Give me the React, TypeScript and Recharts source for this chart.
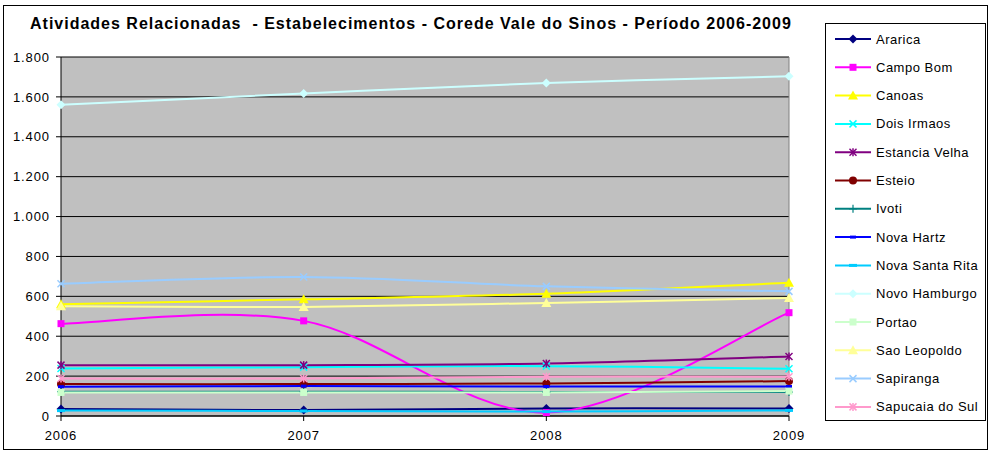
import React from "react";
import {
  CartesianGrid,
  Line,
  LineChart,
  ReferenceLine,
  XAxis,
  YAxis,
} from "recharts";

const YEARS = ["2006", "2007", "2008", "2009"];

const ARARICA = [35, 30, 38, 38];
const CAMPO_BOM = [463, 477, 17, 518];
const CANOAS = [560, 585, 613, 668];
const DOIS_IRMAOS = [238, 245, 250, 237];
const ESTANCIA_VELHA = [255, 255, 263, 298];
const ESTEIO = [160, 160, 163, 175];
const IVOTI = [122, 122, 120, 120];
const NOVA_HARTZ = [147, 150, 148, 148];
const NOVA_SANTA_RITA = [27, 25, 22, 28];
const NOVO_HAMBURGO = [1560, 1617, 1670, 1703];
const PORTAO = [118, 118, 118, 125];
const SAO_LEOPOLDO = [550, 547, 567, 592];
const SAPIRANGA = [663, 697, 650, 625];
const SAPUCAIA_DO_SUL = [188, 188, 197, 197];

const Y_TICKS = [0, 200, 400, 600, 800, 1000, 1200, 1400, 1600, 1800];

type MarkerKind =
  | "diamond"
  | "square"
  | "triangle"
  | "x"
  | "star"
  | "circle"
  | "plus"
  | "dash"
  | "bar";

const SERIES: { name: string; values: number[]; color: string; marker: MarkerKind }[] = [
  { name: "Ararica", values: ARARICA, color: "#000080", marker: "diamond" },
  { name: "Campo Bom", values: CAMPO_BOM, color: "#FF00FF", marker: "square" },
  { name: "Canoas", values: CANOAS, color: "#FFFF00", marker: "triangle" },
  { name: "Dois Irmaos", values: DOIS_IRMAOS, color: "#00FFFF", marker: "x" },
  { name: "Estancia Velha", values: ESTANCIA_VELHA, color: "#800080", marker: "star" },
  { name: "Esteio", values: ESTEIO, color: "#800000", marker: "circle" },
  { name: "Ivoti", values: IVOTI, color: "#008080", marker: "plus" },
  { name: "Nova Hartz", values: NOVA_HARTZ, color: "#0000FF", marker: "dash" },
  { name: "Nova Santa Rita", values: NOVA_SANTA_RITA, color: "#00CCFF", marker: "bar" },
  { name: "Novo Hamburgo", values: NOVO_HAMBURGO, color: "#CCFFFF", marker: "diamond" },
  { name: "Portao", values: PORTAO, color: "#CCFFCC", marker: "square" },
  { name: "Sao Leopoldo", values: SAO_LEOPOLDO, color: "#FFFF99", marker: "triangle" },
  { name: "Sapiranga", values: SAPIRANGA, color: "#99CCFF", marker: "x" },
  { name: "Sapucaia do Sul", values: SAPUCAIA_DO_SUL, color: "#FF99CC", marker: "star" },
];

const data = YEARS.map((year, i) => {
  const row: Record<string, string | number> = { year };
  SERIES.forEach((s) => {
    row[s.name] = s.values[i];
  });
  return row;
});

const FONT = '"Liberation Sans", Arial, sans-serif';
const TICK_STYLE = { fill: "#000", fontSize: 13, fontFamily: FONT, letterSpacing: 0.9 };

// Excel style smoothing (catmull-rom through the points)
function excelSmooth(context: any) {
  let pts: number[][] = [];
  return {
    areaStart() {},
    areaEnd() {},
    lineStart() {
      pts = [];
    },
    point(x: number, y: number) {
      pts.push([+x, +y]);
    },
    lineEnd() {
      const n = pts.length;
      if (!n) return;
      context.moveTo(pts[0][0], pts[0][1]);
      for (let i = 0; i < n - 1; i++) {
        const p0 = pts[Math.max(i - 1, 0)];
        const p1 = pts[i];
        const p2 = pts[i + 1];
        const p3 = pts[Math.min(i + 2, n - 1)];
        context.bezierCurveTo(
          p1[0] + (p2[0] - p0[0]) / 6,
          p1[1] + (p2[1] - p0[1]) / 6,
          p2[0] - (p3[0] - p1[0]) / 6,
          p2[1] - (p3[1] - p1[1]) / 6,
          p2[0],
          p2[1]
        );
      }
    },
  };
}

function Marker({ kind, cx, cy, color }: { kind: MarkerKind; cx: number; cy: number; color: string }) {
  switch (kind) {
    case "diamond":
      return (
        <polygon
          points={`${cx},${cy - 4.5} ${cx + 4.5},${cy} ${cx},${cy + 4.5} ${cx - 4.5},${cy}`}
          fill={color}
        />
      );
    case "square":
      return <rect x={cx - 3.5} y={cy - 3.5} width={7} height={7} fill={color} />;
    case "triangle":
      return <polygon points={`${cx},${cy - 5} ${cx + 5},${cy + 4} ${cx - 5},${cy + 4}`} fill={color} />;
    case "circle":
      return <circle cx={cx} cy={cy} r={4} fill={color} />;
    case "x":
      return (
        <g stroke={color} strokeWidth={1.5}>
          <line x1={cx - 3.5} y1={cy - 3.5} x2={cx + 3.5} y2={cy + 3.5} />
          <line x1={cx - 3.5} y1={cy + 3.5} x2={cx + 3.5} y2={cy - 3.5} />
        </g>
      );
    case "star":
      return (
        <g stroke={color} strokeWidth={1.5}>
          <line x1={cx - 3.5} y1={cy - 3.5} x2={cx + 3.5} y2={cy + 3.5} />
          <line x1={cx - 3.5} y1={cy + 3.5} x2={cx + 3.5} y2={cy - 3.5} />
          <line x1={cx} y1={cy - 4} x2={cx} y2={cy + 4} />
        </g>
      );
    case "plus":
      return (
        <g stroke={color} strokeWidth={1.2}>
          <line x1={cx - 4} y1={cy} x2={cx + 4} y2={cy} />
          <line x1={cx} y1={cy - 4} x2={cx} y2={cy + 4} />
        </g>
      );
    case "dash":
      return <rect x={cx - 3} y={cy - 1.5} width={6} height={3} fill={color} />;
    case "bar":
      return <rect x={cx - 4} y={cy - 1.5} width={8} height={3} fill={color} />;
  }
  return null;
}

function fmt(v: number) {
  if (v >= 1000) return `${Math.floor(v / 1000)}.${String(v % 1000).padStart(3, "0")}`;
  return String(v);
}

function SeriesLegend() {
  return (
    <div
      style={{
        position: "absolute",
        left: 825,
        top: 23,
        width: 159,
        height: 396,
        border: "1px solid #000",
        background: "#fff",
      }}
    >
      <svg width={159} height={396}>
        {SERIES.map((s, i) => {
          const y = 15 + i * 28.3;
          return (
            <g key={s.name}>
              <line x1={9} x2={45} y1={y} y2={y} stroke={s.color} strokeWidth={2} />
              <Marker kind={s.marker} cx={27} cy={y} color={s.color} />
              <text
                x={50}
                y={y + 4.5}
                fontSize={13}
                fontFamily={FONT}
                letterSpacing={0.5}
                fill="#000"
              >
                {s.name}
              </text>
            </g>
          );
        })}
      </svg>
    </div>
  );
}

export default function App() {
  return (
    <div
      style={{
        position: "absolute",
        left: 0,
        top: 0,
        width: 994,
        height: 452,
        background: "#fff",
        fontFamily: FONT,
      }}
    >
      <div
        style={{
          position: "absolute",
          left: 3,
          top: 5,
          width: 983,
          height: 443,
          border: "1px solid #000",
        }}
      />
      <div
        style={{
          position: "absolute",
          left: 30,
          top: 15,
          fontSize: 16,
          fontWeight: "bold",
          letterSpacing: 1,
          whiteSpace: "pre",
        }}
      >
        {"Atividades Relacionadas  - Estabelecimentos - Corede Vale do Sinos - Período 2006-2009"}
      </div>
      <div style={{ position: "absolute", left: 0, top: 0 }}>
        <LineChart
          width={994}
          height={452}
          data={data}
          margin={{ top: 57, right: 205, bottom: 0, left: 0 }}
        >
          <CartesianGrid vertical={false} stroke="#000" fill="#C0C0C0" fillOpacity={1} />
          <XAxis
            dataKey="year"
            height={36}
            stroke="#000"
            tickSize={5}
            tickMargin={10}
            tick={TICK_STYLE}
          />
          <YAxis
            width={61}
            domain={[0, 1800]}
            ticks={Y_TICKS}
            tickFormatter={fmt}
            stroke="#000"
            tickSize={5}
            tickMargin={6}
            tick={TICK_STYLE}
          />
          <ReferenceLine x="2009" stroke="#808080" />
          {SERIES.map((s) => (
            <Line
              key={s.name}
              dataKey={s.name}
              type={excelSmooth as any}
              stroke={s.color}
              strokeWidth={2}
              isAnimationActive={false}
              activeDot={false}
              dot={(p: any) => (
                <Marker key={`${s.name}-${p.index}`} kind={s.marker} cx={p.cx} cy={p.cy} color={s.color} />
              )}
            />
          ))}
        </LineChart>
      </div>
      <SeriesLegend />
    </div>
  );
}
